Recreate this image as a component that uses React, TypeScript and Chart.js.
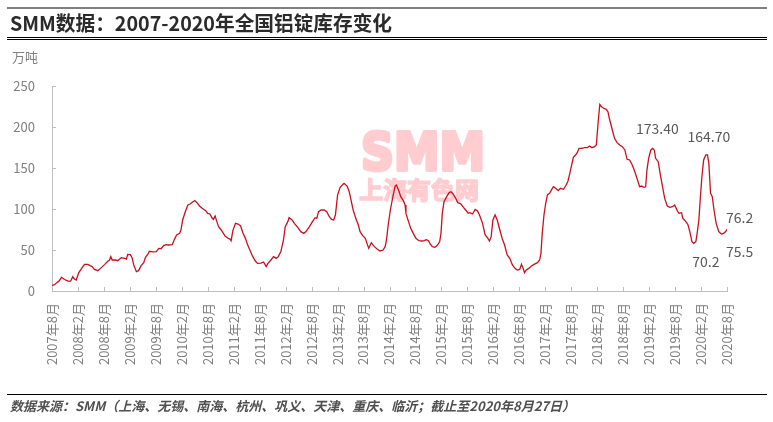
import { useEffect, useRef } from "react";
import { Chart, registerables } from "chart.js";

Chart.register(...registerables);

// half-year tick labels, one every 6 months from 2007-08
const TICK_LABELS = [
  "2007年8月", "2008年2月", "2008年8月", "2009年2月", "2009年8月",
  "2010年2月", "2010年8月", "2011年2月", "2011年8月", "2012年2月",
  "2012年8月", "2013年2月", "2013年8月", "2014年2月", "2014年8月",
  "2015年2月", "2015年8月", "2016年2月", "2016年8月", "2017年2月",
  "2017年8月", "2018年2月", "2018年8月", "2019年2月", "2019年8月",
  "2020年2月", "2020年8月",
];

// months elapsed since Aug 2007
const MONTHS = [
  0, 0.6, 1.1, 1.6, 2.2, 2.9, 3.7, 4.3, 4.8, 5.1, 5.6, 6.2, 6.7, 7.5, 8.3, 8.8,
  9.3, 9.8, 10.6, 11.4, 12.2, 12.9, 13.3, 13.6, 13.9, 14.7, 15.2, 16.0, 16.8,
  17.2, 17.5, 18.1, 18.5, 18.9, 19.5, 20.0, 20.6, 21.2, 21.6, 22.2, 22.5, 23.3,
  24.1, 24.7, 25.2, 25.8, 26.4, 27.0, 27.8, 28.3, 28.8, 29.5, 29.8, 30.2, 30.8,
  31.4, 31.9, 32.5, 33.0, 33.5, 34.1, 34.7, 35.5, 36.0, 36.5, 37.0, 37.3, 37.7,
  38.1, 38.5, 39.1, 39.5, 40.0, 40.6, 41.2, 41.4, 41.8, 42.4, 43.0, 43.6, 44.1,
  44.7, 45.2, 45.8, 46.4, 47.0, 47.5, 48.3, 48.9, 49.5, 49.9, 50.6, 51.2, 51.8,
  52.3, 52.9, 53.5, 53.9, 54.5, 54.8, 55.5, 56.0, 56.8, 57.5, 58.2, 58.7, 59.5,
  60.2, 60.8, 61.2, 61.6, 62.2, 62.9, 63.5, 64.1, 64.6, 65.1, 65.5, 66.0, 66.6,
  67.2, 67.5, 68.2, 68.7, 69.1, 69.6, 70.2, 70.8, 71.2, 71.8, 72.4, 72.8, 73.2,
  73.8, 74.5, 75.2, 75.8, 76.5, 77.0, 77.3, 77.7, 78.2, 78.7, 79.3, 79.6, 80.1,
  80.6, 81.2, 81.6, 81.8, 82.4, 82.9, 83.5, 84.1, 84.8, 85.5, 86.0, 86.5, 87.0,
  87.4, 87.9, 88.5, 89.1, 89.6, 89.9, 90.2, 90.6, 91.2, 91.8, 92.2, 92.7, 93.3,
  93.8, 94.5, 95.1, 95.6, 96.2, 96.6, 97.2, 97.8, 98.3, 98.8, 99.5, 100.1,
  100.6, 101.1, 101.5, 101.9, 102.4, 102.9, 103.5, 104.1, 104.6, 105.2, 105.8,
  106.4, 107.0, 107.5, 108.1, 108.5, 108.9, 109.2, 109.6, 110.2, 110.8, 111.4,
  112.2, 112.7, 113.0, 113.3, 113.7, 114.1, 114.5, 115.0, 115.5, 115.9, 116.4,
  117.0, 117.5, 118.2, 118.7, 119.2, 119.6, 120.1, 120.5, 121.0, 121.4, 121.8,
  122.4, 123.1, 123.7, 124.2, 124.8, 125.4, 125.8, 126.2, 126.6, 127.0, 127.5,
  128.1, 128.5, 128.9, 129.5, 130.0, 130.6, 131.2, 131.8, 132.4, 132.9, 133.5,
  134.1, 134.7, 135.2, 135.8, 136.2, 136.8, 137.2, 137.5, 137.9, 138.4, 138.8,
  139.2, 139.5, 140.1, 140.6, 141.1, 141.6, 142.2, 142.8, 143.4, 143.9, 144.5,
  144.9, 145.5, 145.8, 146.5, 147.0, 147.4, 147.9, 148.3, 148.8, 149.1, 149.5,
  149.8, 150.2, 150.6, 151.1, 151.5, 151.8, 152.2, 152.6, 153.0, 153.5, 154.1,
  154.7, 155.2, 155.7, 156.0,
];

// 万吨
const STOCK = [
  6.9, 7.7, 10.2, 12, 16.7, 14, 12, 12, 17.5, 15, 13.4, 22.4, 26.4, 32.5, 32.5,
  31, 29.7, 26.4, 24.8, 28.5, 32.5, 36.2, 37.8, 41.9, 37.8, 37.8, 37, 40.6,
  39.8, 39, 44.7, 44.3, 40.6, 31.7, 23.6, 24.8, 30.9, 34.6, 41, 45.1, 48.4,
  47.6, 48, 52, 51.6, 55.3, 56.5, 56.1, 56.5, 63, 68.3, 70.3, 74.4, 86.6, 96.7,
  104.9, 106.1, 108.5, 110.2, 107.7, 103.7, 100.8, 98, 94.7, 93.9, 89, 87.4,
  91.5, 84.6, 78.5, 74.4, 71.1, 67, 64.6, 63, 61.4, 73.6, 82.5, 81.7, 79.3,
  71.1, 64.2, 56.5, 49.2, 41.9, 36.6, 33.7, 34.1, 35.4, 29.7, 33.7, 37.8, 41.9,
  39.8, 41.9, 48, 62.2, 78.5, 84.6, 89.4, 86.6, 82.5, 77.6, 72.4, 70.3, 72.4,
  78.5, 84.6, 89.4, 88.6, 96.7, 98.8, 98.8, 96.7, 90.6, 87.4, 86.6, 92.7, 117,
  126.4, 130, 131.3, 128, 121, 111, 98.8, 88.6, 80.5, 72.4, 67.5, 64.2, 58.1,
  52, 58.9, 54.1, 50.8, 48.8, 50, 54.1, 62.2, 80.5, 98.8, 113, 128, 129.3,
  123.2, 115, 110.2, 104.9, 94.7, 84.6, 76.4, 70.3, 64.2, 61.4, 61, 61.4, 62.6,
  61.4, 57.3, 54.1, 53.3, 56.1, 60.2, 70.3, 94.7, 109, 115, 120, 121.1, 118.3,
  113, 107.7, 106.1, 102, 98.8, 94.7, 95.5, 93.9, 99.6, 98, 92.7, 82.5, 68.3,
  65.4, 61, 66.3, 86.6, 92.7, 86.6, 74.4, 63, 56.1, 43.9, 39.8, 31.7, 27.6,
  25.6, 26.4, 32.5, 27.6, 22.4, 25.6, 27.6, 30.5, 32.5, 34.6, 37.8, 45.9, 70.3,
  92.7, 106.9, 117.1, 119.1, 124, 127.2, 125.2, 122.4, 125.2, 124, 128, 133.3,
  141.5, 153.7, 163, 165.9, 168.7, 174, 174, 174.8, 174.8, 176.8, 174.8, 176,
  178, 204.5, 227.6, 224.8, 222.8, 221.5, 218.3, 208.5, 196.3, 186.2, 180.9,
  178, 176, 172, 160.6, 159.8, 153.7, 145.5, 137.4, 127.2, 128, 126.4, 127,
  147.6, 162, 172, 174, 172, 161.8, 157.7, 141.5, 127.2, 113, 103.7, 102, 102.8,
  104.9, 98, 94.7, 95.5, 88.6, 84.6, 80.5, 72.4, 60.2, 58.1, 60.2, 70.3, 86.6,
  111, 139.4, 159.8, 165.9, 165.9, 155.7, 119.1, 115, 98.8, 82.5, 72.4, 69.5,
  70.3, 72.4, 75.2,
];

const LABEL_TEXTS = ["173.40", "164.70", "76.2", "75.5", "70.2"];

const TITLE = "SMM数据：2007-2020年全国铝锭库存变化";
const SOURCE =
  "数据来源：SMM（上海、无锡、南海、杭州、巩义、天津、重庆、临沂；截止至2020年8月27日）";

const CJK = '"Noto Sans CJK SC", "Noto Sans", sans-serif';
const GREY = "#7f7f7f";
const AXIS = "#bfbfbf";
const WATERMARK = "#ffcdd0";

// page frame: title rules, title, unit, footer, watermark, value notes
const framePlugin = {
  id: "frame",
  beforeDatasetsDraw(chart: Chart) {
    const ctx = chart.ctx;
    ctx.save();
    ctx.fillStyle = WATERMARK;
    ctx.strokeStyle = WATERMARK;
    ctx.lineJoin = "round";
    ctx.textAlign = "left";
    ctx.textBaseline = "alphabetic";
    ctx.font = 'bold 52px "DejaVu Sans", sans-serif';
    ctx.lineWidth = 4;
    ctx.strokeText("SMM", 361, 170, 124);
    ctx.fillText("SMM", 361, 170, 124);
    ctx.textBaseline = "middle";
    ctx.font = `bold 24px ${CJK}`;
    ctx.lineWidth = 1.5;
    ctx.strokeText("上海有色网", 359, 190, 128);
    ctx.fillText("上海有色网", 359, 190, 128);
    ctx.restore();
  },
  afterDraw(chart: Chart) {
    const ctx = chart.ctx;
    const x = chart.scales.x;
    const y = chart.scales.y;
    ctx.save();

    // rules
    ctx.strokeStyle = "#000";
    ctx.lineWidth = 1.2;
    ctx.beginPath();
    ctx.moveTo(7, 8);
    ctx.lineTo(767, 8);
    ctx.moveTo(7, 37.5);
    ctx.lineTo(767, 37.5);
    ctx.moveTo(7, 39.5);
    ctx.lineTo(767, 39.5);
    ctx.moveTo(7, 394.5);
    ctx.lineTo(767, 394.5);
    ctx.stroke();

    ctx.fillStyle = "#2b2b2b";
    ctx.textBaseline = "middle";
    ctx.textAlign = "left";
    ctx.font = `bold 20px ${CJK}`;
    ctx.fillText(TITLE, 10, 23, 382);

    ctx.fillStyle = GREY;
    ctx.font = `13px ${CJK}`;
    ctx.fillText("万吨", 12, 57);

    ctx.fillStyle = "#505050";
    ctx.font = `italic bold 13px ${CJK}`;
    ctx.fillText(SOURCE, 10, 406, 567);

    // inward tick marks
    ctx.strokeStyle = AXIS;
    ctx.lineWidth = 1;
    ctx.beginPath();
    x.ticks.forEach((t) => {
      const px = Math.round(x.getPixelForValue(t.value)) + 0.5;
      ctx.moveTo(px, y.bottom);
      ctx.lineTo(px, y.bottom - 4);
    });
    y.ticks.forEach((t) => {
      const py = Math.round(y.getPixelForValue(t.value)) + 0.5;
      ctx.moveTo(x.left, py);
      ctx.lineTo(x.left + 4, py);
    });
    ctx.stroke();

    // value notes, anchored in data units
    const anchors: Array<[number, number]> = [
      [139.9, 197.6],
      [151.8, 187.8],
      [158.9, 88.9],
      [158.9, 47.6],
      [151.1, 35.4],
    ];
    ctx.fillStyle = "#595959";
    ctx.textAlign = "center";
    ctx.font = `14px ${CJK}`;
    LABEL_TEXTS.forEach((txt, i) => {
      const [mx, vy] = anchors[i];
      ctx.fillText(txt, x.getPixelForValue(mx), y.getPixelForValue(vy));
    });
    ctx.restore();
  },
};

export default function App() {
  const canvasRef = useRef<HTMLCanvasElement>(null);

  useEffect(() => {
    document.body.style.margin = "0";
    if (!canvasRef.current) return;

    const points = MONTHS.map((m, i) => ({ x: m, y: STOCK[i] }));

    const chart = new Chart(canvasRef.current, {
      type: "line",
      data: {
        datasets: [
          {
            label: "全国铝锭库存",
            data: points,
            borderColor: "#c8101e",
            borderWidth: 1.3,
            pointRadius: 0,
            tension: 0,
            fill: false,
          },
        ],
      },
      options: {
        responsive: false,
        animation: false,
        layout: { padding: { left: 8, right: 46, top: 86, bottom: 51 } },
        plugins: {
          legend: { display: false },
          tooltip: { enabled: false },
        },
        scales: {
          x: {
            type: "linear",
            min: 0,
            max: 156,
            afterFit: (scale) => {
              scale.height = 80;
            },
            grid: { display: false, drawTicks: false },
            border: { display: true, color: AXIS, width: 1 },
            ticks: {
              stepSize: 6,
              autoSkip: false,
              minRotation: 90,
              maxRotation: 90,
              padding: 12,
              color: GREY,
              font: { family: CJK, size: 13 },
              callback: (v) => TICK_LABELS[Math.round(Number(v) / 6)] ?? "",
            },
          },
          y: {
            min: 0,
            max: 250,
            afterFit: (scale) => {
              scale.width = 44;
            },
            grid: { display: false, drawTicks: false },
            border: { display: true, color: AXIS, width: 1 },
            ticks: {
              stepSize: 50,
              padding: 17,
              color: GREY,
              font: { family: CJK, size: 13 },
            },
          },
        },
      },
      plugins: [framePlugin],
    });

    return () => {
      chart.destroy();
    };
  }, []);

  return (
    <div style={{ position: "absolute", left: 0, top: 0, width: 773, height: 422, background: "#fff" }}>
      <canvas ref={canvasRef} width={773} height={422} />
    </div>
  );
}
